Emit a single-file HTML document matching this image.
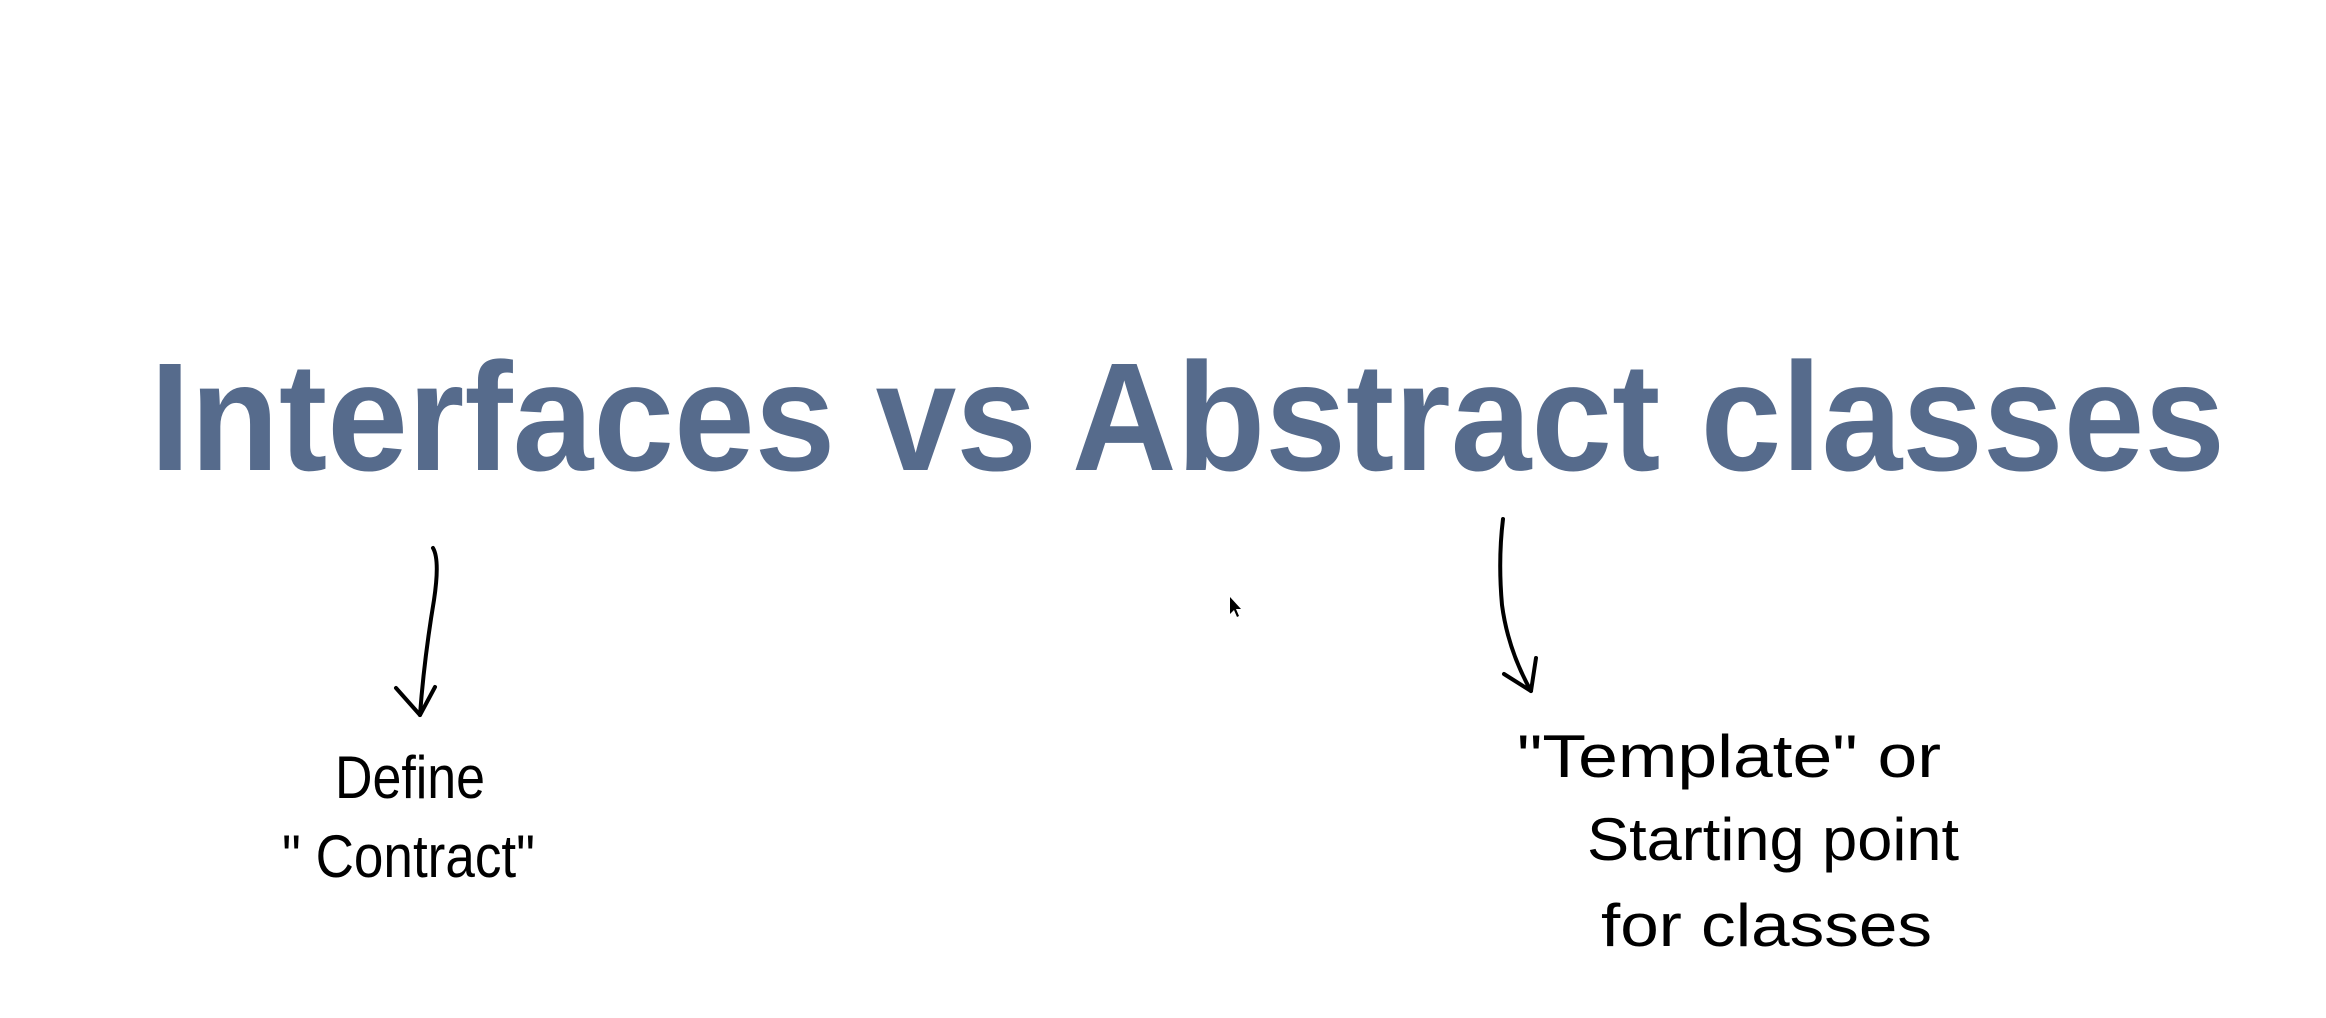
<!DOCTYPE html>
<html><head><meta charset="utf-8"><style>
html,body{margin:0;padding:0;background:#fff;}
svg{display:block;}
</style></head><body>
<svg width="2326" height="1018" viewBox="0 0 2326 1018" xmlns="http://www.w3.org/2000/svg">
<rect width="2326" height="1018" fill="#fff"/>
<text x="150" y="470" font-family="Liberation Sans, sans-serif" font-weight="bold" font-size="154" fill="#566b8c" textLength="2075" lengthAdjust="spacingAndGlyphs">Interfaces vs Abstract classes</text>
<g fill="none" stroke="#000" stroke-width="4" stroke-linecap="round" stroke-linejoin="round">
<path d="M433 548 Q440 560 434 600 Q424 660 420 715"/>
<path d="M396 688 L420 715 L435 687"/>
<path d="M1503 519 Q1498 560 1502 605 Q1508 650 1531 691"/>
<path d="M1504 674 L1531 691 L1536 658"/>
</g>
<g font-family="Liberation Sans, sans-serif" fill="#000" font-size="60">
<text x="335" y="798" textLength="150" lengthAdjust="spacingAndGlyphs">Define</text>
<text x="282" y="877" textLength="253" lengthAdjust="spacingAndGlyphs">" Contract"</text>
<text x="1517" y="777" textLength="424" lengthAdjust="spacingAndGlyphs">"Template"  or</text>
<text x="1587" y="860" textLength="372" lengthAdjust="spacingAndGlyphs">Starting  point</text>
<text x="1601" y="946" textLength="331" lengthAdjust="spacingAndGlyphs">for   classes</text>
</g>
<path d="M1230 597 L1230 614 L1234 610 L1237 617 L1239 616 L1236 609 L1241 609 Z" fill="#000"/>
</svg>
</body></html>
